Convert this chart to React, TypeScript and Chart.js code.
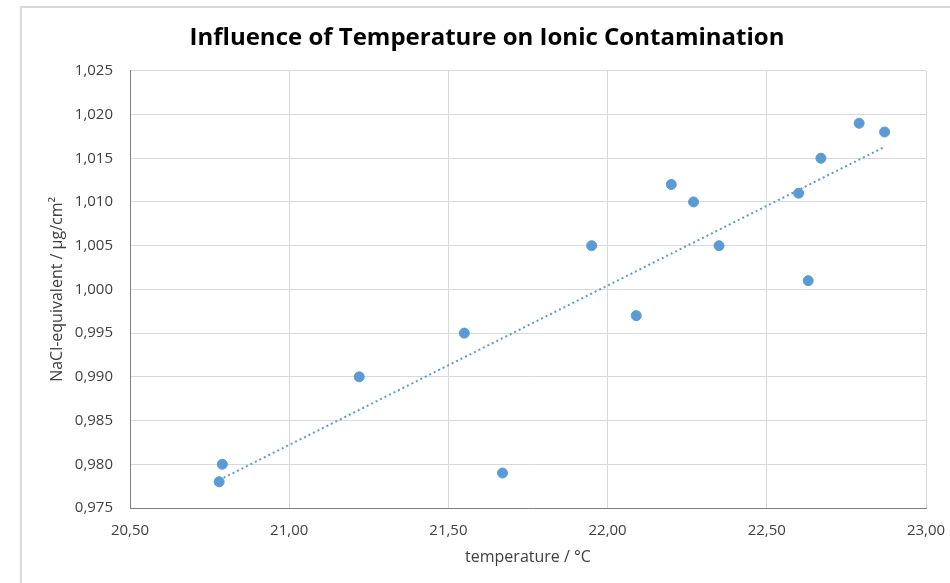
import React, { useEffect, useRef } from "react";
import { Chart, registerables } from "chart.js";

Chart.register(...registerables);

const temperature = [20.78, 20.79, 21.22, 21.55, 21.67, 21.95, 22.09, 22.20, 22.27, 22.35, 22.60, 22.63, 22.67, 22.79, 22.87];
const nacl = [0.978, 0.980, 0.990, 0.995, 0.979, 1.005, 0.997, 1.012, 1.010, 1.005, 1.011, 1.001, 1.015, 1.019, 1.018];
const trendX = [20.78, 22.87];
const trendY = [0.9782, 1.0163];

const fmt = (v: number, d: number) => v.toFixed(d).replace(".", ",");

const borderPlugin = {
  id: "outerBorder",
  beforeDraw(chart: any) {
    const ctx = chart.ctx;
    ctx.save();
    ctx.fillStyle = "#ffffff";
    ctx.fillRect(0, 0, chart.width, chart.height);
    ctx.strokeStyle = "#d9d9d9";
    ctx.lineWidth = 2;
    ctx.beginPath();
    ctx.moveTo(21, chart.height);
    ctx.lineTo(21, 7);
    ctx.lineTo(chart.width, 7);
    ctx.stroke();
    ctx.restore();
  },
};

export default function App() {
  const ref = useRef<HTMLCanvasElement>(null);
  useEffect(() => {
    document.body.style.margin = "0";
    const chart = new Chart(ref.current!, {
      type: "scatter",
      data: {
        datasets: [
          {
            label: "NaCl",
            data: temperature.map((x, i) => ({ x, y: nacl[i] })),
            backgroundColor: "#5b9bd5",
            borderColor: "#5b9bd5",
            pointRadius: 5,
            pointHoverRadius: 5,
          },
          {
            label: "Trend",
            type: "line",
            data: trendX.map((x, i) => ({ x, y: trendY[i] })),
            borderColor: "#5b9bd5",
            borderWidth: 2,
            borderDash: [2, 3],
            pointRadius: 0,
            fill: false,
          } as any,
        ],
      },
      options: {
        animation: false,
        responsive: false,
        layout: { padding: { left: 48, right: 24, top: 0, bottom: 14 } },
        plugins: {
          legend: { display: false },
          tooltip: { enabled: false },
          title: {
            display: true,
            text: "Influence of Temperature on Ionic Contamination",
            color: "#000000",
            font: { family: "'Open Sans', sans-serif", size: 24, weight: "bold" },
            padding: { top: 24, bottom: 18 },
          },
        },
        scales: {
          x: {
            type: "linear",
            min: 20.5,
            max: 23,
            ticks: {
              stepSize: 0.5,
              callback: (v: any) => fmt(Number(v), 2),
              color: "#404040",
              font: { family: "'Open Sans', sans-serif", size: 15 },
              padding: 14,
            },
            grid: { color: "#d9d9d9", lineWidth: 1, drawTicks: false },
            border: { color: "#808080", width: 1 },
            title: {
              display: true,
              text: "temperature / °C",
              color: "#404040",
              font: { family: "'Open Sans', sans-serif", size: 16 },
              padding: { top: 4, bottom: 2 },
            },
            afterFit: (s: any) => { s.height = 61; s.paddingRight = 0; s.paddingLeft = 0; },
          },
          y: {
            type: "linear",
            min: 0.975,
            max: 1.025,
            ticks: {
              stepSize: 0.005,
              callback: (v: any) => fmt(Number(v), 3),
              color: "#404040",
              font: { family: "'Open Sans', sans-serif", size: 15 },
              padding: 17,
            },
            grid: { color: "#d9d9d9", lineWidth: 1, drawTicks: false },
            border: { color: "#808080", width: 1 },
            title: {
              display: true,
              text: "NaCl-equivalent / µg/cm²",
              color: "#404040",
              font: { family: "'Open Sans', sans-serif", size: 16 },
              padding: { top: 0, bottom: 0 },
            },
            afterFit: (s: any) => { s.width = 82; },
          },
        },
      },
      plugins: [borderPlugin],
    });
    return () => chart.destroy();
  }, []);
  return <canvas ref={ref} width={950} height={583} style={{ display: "block" }} />;
}
